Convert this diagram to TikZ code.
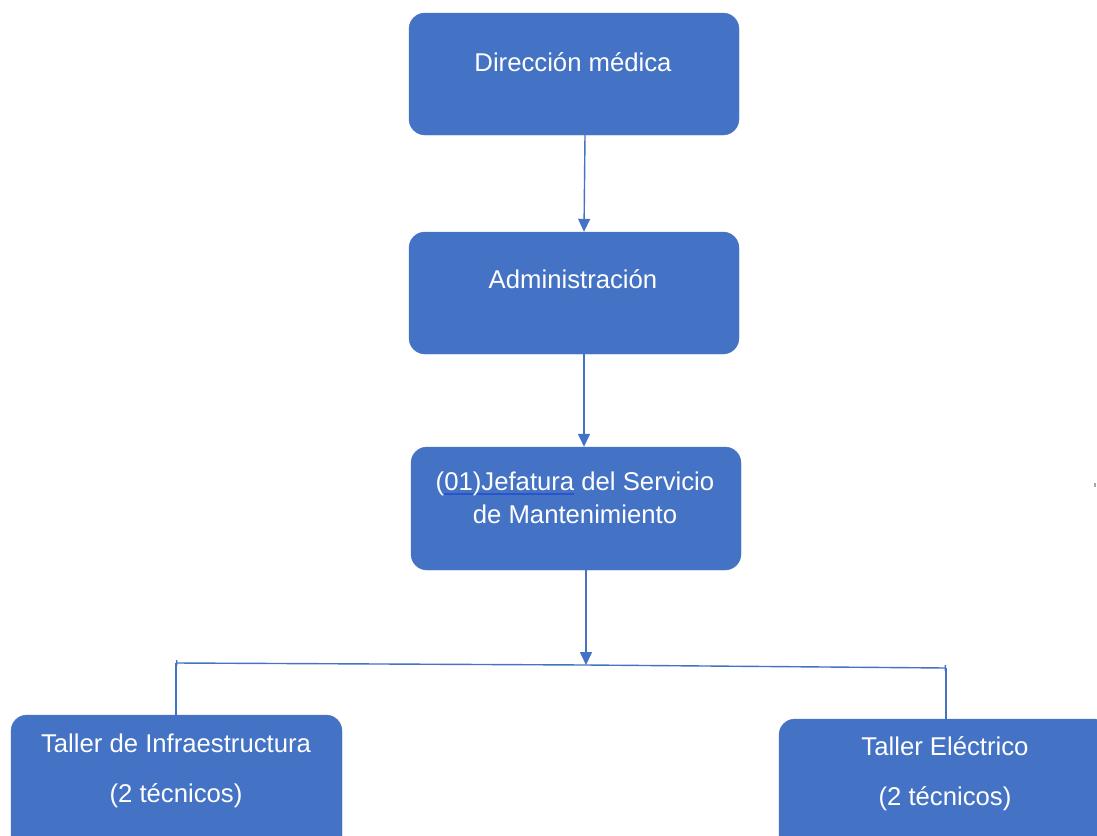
\documentclass[tikz,border=0pt]{standalone}
\usepackage{fontspec}
\setmainfont{Liberation Sans}
\usetikzlibrary{arrows.meta}
\definecolor{boxblue}{HTML}{4472C4}
\definecolor{ulblue}{HTML}{2A55C8}
% thin coloured underline under a piece of text, text colour unchanged
\newcommand\blueuline[1]{\leavevmode\setbox0\hbox{#1}\rlap{\color{ulblue}\rule[-4.5pt]{\wd0}{1.4pt}}\box0\relax}
\tikzset{
  unitbox/.style={rectangle, rounded corners=16pt, fill=boxblue, draw=boxblue,
    inner sep=0pt, minimum width=330pt},
  boxtext/.style={text=white, font=\fontsize{25.7}{33}\selectfont, align=center,
    inner sep=0pt, anchor=base},
  link/.style={draw=boxblue, line width=1.4pt},
  linkarrow/.style={link, -{Triangle[length=13pt,width=12pt]}},
}
\begin{document}
\begin{tikzpicture}[x=1pt, y=-1pt]
  \useasboundingbox (0,0) rectangle (1097,835);
  \clip (0,0) rectangle (1097,835);

  % boxes
  \node[unitbox, minimum height=122pt] (dir)  at (574,74)  {};
  \node[unitbox, minimum height=122pt] (adm)  at (574,293) {};
  \node[unitbox, minimum height=123pt] (jef)  at (576,508.5) {};
  \node[unitbox, minimum width=331pt, minimum height=150pt] (infra) at (176.5,790) {};
  \node[unitbox, minimum width=331pt, minimum height=150pt] (elec)  at (944.5,794) {};

  % labels (base anchor = baseline of the last line)
  \node[boxtext] (tdir) at (573,71)  {Dirección médica};
  \node[boxtext] (tadm) at (573,288) {Administración};
  \node[boxtext] (tjef) at (575,523) {(\blueuline{01)Jefatura} del Servicio\\de Mantenimiento};
  \node[boxtext] (tinf) at (176,802) {Taller de Infraestructura\\[17pt](2 técnicos)};
  \node[boxtext] (tele) at (945,805) {Taller Eléctrico\\[17pt](2 técnicos)};

  % junction points of the branch line
  \coordinate (hl) at (176,663);
  \coordinate (hm) at (586,665);
  \coordinate (hr) at (946,668);

  % connectors
  \draw[linkarrow] ([xshift=11pt]dir.south) -- ([xshift=10pt]adm.north);
  \draw[linkarrow] ([xshift=10pt]adm.south) -- ([xshift=8pt]jef.north);
  \draw[linkarrow] ([xshift=10pt]jef.south) -- (hm);
  \draw[link, {Bar[width=6pt]}-{Bar[width=6pt]}] (hl) -- (hm) -- (hr);
  \draw[link] (hl) -- (hl |- infra.north);
  \draw[link] (hr) -- (hr |- elec.north);

  % small stray mark at the right edge
  \fill[gray!70] (1094,483) rectangle (1096,487);
\end{tikzpicture}
\end{document}
